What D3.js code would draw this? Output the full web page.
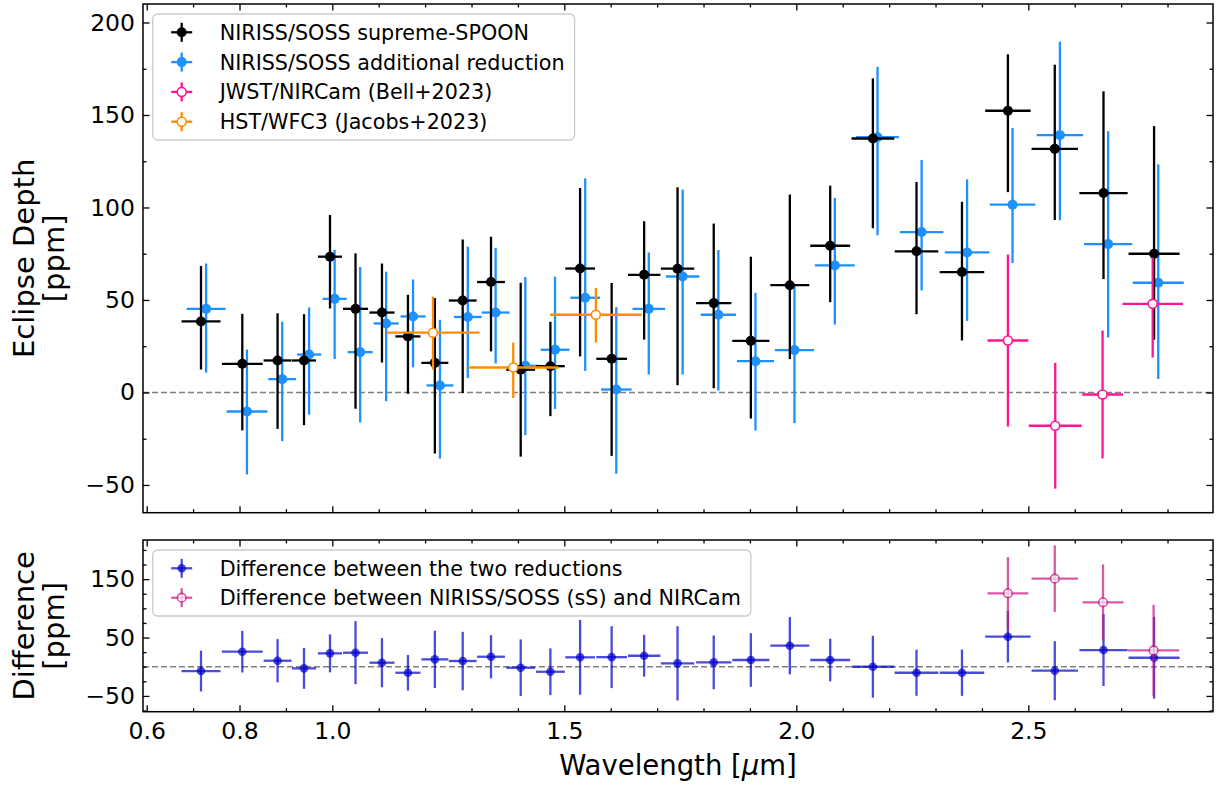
<!DOCTYPE html>
<html>
<head>
<meta charset="utf-8">
<script src="https://cdn.jsdelivr.net/npm/d3@7"></script>
<style>
  body { margin: 0; background: #fff; }
  svg { display: block; font-family: "DejaVu Sans", sans-serif; }
  .axis path { display: none; }
  .axis line { stroke: #000; stroke-width: 1.3; }
  .axis text { font-size: 23.5px; fill: #000; font-family: "DejaVu Sans", sans-serif; }
  .leg text { font-size: 20.7px; fill: #000; }
</style>
</head>
<body>
<svg width="1217" height="785"></svg>
<script>
// NIRISS/SOSS supreme-SPOON
var spoonWl    = [0.717, 0.806, 0.882, 0.939, 0.995, 1.050, 1.107, 1.163, 1.221, 1.281, 1.342, 1.406, 1.470, 1.534,
                  1.602, 1.672, 1.744, 1.822, 1.902, 1.986, 2.073, 2.165, 2.259, 2.357, 2.456, 2.557, 2.662, 2.771];
var spoonWlErr = [0.042, 0.044, 0.030, 0.026, 0.026, 0.027, 0.027, 0.027, 0.029, 0.030, 0.030, 0.031, 0.031, 0.032,
                  0.033, 0.035, 0.036, 0.038, 0.040, 0.042, 0.043, 0.046, 0.047, 0.048, 0.049, 0.050, 0.052, 0.055];
var spoonDepth = [38.4, 15.5, 17.3, 17.3, 73.4, 45.2, 43.2, 30.3, 16.0, 49.7, 59.7, 12.3, 14.2, 67.0,
                  18.2, 63.6, 66.9, 48.3, 27.9, 58.0, 79.3, 137.3, 76.3, 65.1, 152.3, 131.7, 107.8, 75.0];
var spoonErrLo = [26, 36, 37, 35, 28, 54, 27, 31, 49, 50, 37.5, 47, 27, 47.5,
                  52.5, 35, 63, 46, 42, 40, 30.5, 48.5, 34, 37, 44, 38.5, 46.5, 46.5];
var spoonErrHi = [30, 27, 25.5, 25, 22.5, 30, 26.5, 22.5, 35, 33, 24.5, 47, 24, 43.5,
                  41, 29, 44, 43, 45.5, 49, 32.5, 32.5, 37.5, 38, 30.5, 45.5, 55, 69];

// NIRISS/SOSS additional reduction
var addWl    = [0.728, 0.816, 0.892, 0.950, 1.005, 1.060, 1.116, 1.174, 1.232, 1.292, 1.352, 1.416, 1.480, 1.545,
                1.612, 1.682, 1.755, 1.832, 1.912, 1.996, 2.083, 2.175, 2.270, 2.368, 2.466, 2.568, 2.672, 2.780];
var addDepth = [45.2, -10.3, 7.2, 20.5, 50.6, 21.8, 37.3, 41.1, 3.8, 40.8, 43.2, 14.4, 23.1, 51.2,
                1.6, 45.2, 62.7, 42.0, 16.9, 22.9, 68.7, 138.0, 86.7, 75.7, 101.5, 139.1, 80.2, 59.3];
var addErrLo = [34.5, 34, 33.5, 32.5, 32.5, 38, 42, 27.5, 39.5, 33, 27.5, 37.5, 32, 39.5,
                45.5, 35.5, 53, 41, 37.5, 39.5, 32, 53, 31.5, 37, 31.5, 46, 50.5, 52];
var addErrHi = [24.5, 33.5, 31, 25.5, 26.5, 46, 28, 20, 35.5, 38, 35, 48, 39.5, 64.5,
                44.5, 30.5, 47, 35, 37, 34.5, 36.5, 38, 39, 39.5, 41.5, 50.5, 61, 64];

// JWST/NIRCam (Bell+2023)
var nircamWl    = [2.456, 2.558, 2.660, 2.768];
var nircamWlErr = [0.044, 0.057, 0.044, 0.065];
var nircamDepth = [28.1, -18.0, -1.1, 47.9];
var nircamErrLo = [46.5, 34, 34.5, 29];
var nircamErrHi = [46.5, 34, 34.5, 25];

// HST/WFC3 (Jacobs+2023)
var wfc3Wl    = [1.217, 1.390, 1.568];
var wfc3WlErr = [0.100, 0.097, 0.099];
var wfc3Depth = [32.3, 13.5, 42.0];
var wfc3ErrLo = [20, 16.5, 15];
var wfc3ErrHi = [19.5, 13.5, 14.5];

// differences (lower panel)
var diffRed    = [-7.4, 25.7, 10.3, -2.8, 22.9, 24.0, 6.9, -10.3, 12.6, 9.8, 17.1, -1.7, -8.6, 16.1,
                  16.4, 18.8, 5.8, 7.5, 11.5, 36.0, 11.5, 0.0, -10.3, -10.3, 51.4, -6.8, 28.6, 15.4];
var diffRedErr = [35, 35.6, 37, 35, 32.5, 54, 42, 30.5, 49, 50, 37, 48.5, 40, 64,
                  53, 35.7, 63.6, 46, 45.7, 49, 36.5, 53, 39.5, 39.6, 44, 50.5, 61.6, 70];
var diffNcWl    = [2.456, 2.557, 2.661, 2.770];
var diffNcWlErr = [0.044, 0.050, 0.044, 0.055];
var diffNc      = [125.7, 150.7, 110.2, 28.0];
var diffNcErr   = [62, 57, 65, 78];

// ticks
var xMajor = [0.6, 0.8, 1.0, 1.5, 2.0, 2.5];
var xMinor = [0.7, 0.9, 1.1, 1.2, 1.3, 1.4, 1.6, 1.7, 1.8, 1.9, 2.1, 2.2, 2.3, 2.4, 2.6, 2.7, 2.8];
var yTopMajor = [-50, 0, 50, 100, 150, 200];
var yTopMinor = [-25, 25, 75, 125, 175];
var yBotMajor = [-50, 50, 150];
var yBotMinor = [-75, -25, 0, 25, 75, 100, 125, 175, 200];

var svg = d3.select("svg");

var x = d3.scaleLinear().domain([0.592, 2.898]).range([143, 1213]);
var yTop = d3.scaleLinear().domain([-65, 210]).range([512.7, 4]);
var yBot = d3.scaleLinear().domain([-77, 217]).range([711.7, 540]);

function drawAxes(y, yMajor, yMinor, xLabels) {
    var r = y.range(), x0 = x.range()[0], x1 = x.range()[1];
    var g = svg.append("g");

    // zero line
    g.append("line")
        .attr("x1", x0).attr("x2", x1)
        .attr("y1", y(0)).attr("y2", y(0))
        .attr("stroke", "#808080").attr("stroke-width", 1.5)
        .attr("stroke-dasharray", "6,3");

    g.append("g").attr("class", "axis")
        .attr("transform", "translate(" + x0 + ",0)")
        .call(d3.axisLeft(y).tickValues(yMajor).tickSize(-6.5).tickPadding(8).tickFormat(d3.format("d")));
    g.append("g").attr("class", "axis")
        .attr("transform", "translate(" + x0 + ",0)")
        .call(d3.axisLeft(y).tickValues(yMinor).tickSize(-3.5).tickFormat(""));
    g.append("g").attr("class", "axis")
        .attr("transform", "translate(" + x1 + ",0)")
        .call(d3.axisRight(y).tickValues(yMajor).tickSize(-6.5).tickFormat(""));
    g.append("g").attr("class", "axis")
        .attr("transform", "translate(" + x1 + ",0)")
        .call(d3.axisRight(y).tickValues(yMinor).tickSize(-3.5).tickFormat(""));

    g.append("g").attr("class", "axis")
        .attr("transform", "translate(0," + r[0] + ")")
        .call(d3.axisBottom(x).tickValues(xMajor).tickSize(-6.5).tickPadding(11)
            .tickFormat(xLabels ? d3.format(".1f") : ""));
    g.append("g").attr("class", "axis")
        .attr("transform", "translate(0," + r[0] + ")")
        .call(d3.axisBottom(x).tickValues(xMinor).tickSize(-3.5).tickFormat(""));
    g.append("g").attr("class", "axis")
        .attr("transform", "translate(0," + r[1] + ")")
        .call(d3.axisTop(x).tickValues(xMajor).tickSize(-6.5).tickFormat(""));
    g.append("g").attr("class", "axis")
        .attr("transform", "translate(0," + r[1] + ")")
        .call(d3.axisTop(x).tickValues(xMinor).tickSize(-3.5).tickFormat(""));

    svg.append("rect")
        .attr("x", x0).attr("y", r[1])
        .attr("width", x1 - x0).attr("height", r[0] - r[1])
        .attr("fill", "none").attr("stroke", "#000").attr("stroke-width", 1.5);
}

// errorbar series: wl, wlErr, val, lower err, upper err, scale, style
function errorbars(wl, wlErr, val, errLo, errHi, y, st) {
    var g = svg.append("g");
    var pts = g.selectAll("g").data(val).enter().append("g");
    var op = st.opacity || 1;
    pts.append("line")
        .attr("x1", function(d, i) { return x(wl[i] - wlErr[i]); })
        .attr("x2", function(d, i) { return x(wl[i] + wlErr[i]); })
        .attr("y1", function(d) { return y(d); })
        .attr("y2", function(d) { return y(d); })
        .attr("stroke", st.color).attr("stroke-width", st.lw).attr("opacity", op);
    pts.append("line")
        .attr("x1", function(d, i) { return x(wl[i]); })
        .attr("x2", function(d, i) { return x(wl[i]); })
        .attr("y1", function(d, i) { return y(d - errLo[i]); })
        .attr("y2", function(d, i) { return y(d + errHi[i]); })
        .attr("stroke", st.color).attr("stroke-width", st.lw).attr("opacity", op);
    pts.append("circle")
        .attr("cx", function(d, i) { return x(wl[i]); })
        .attr("cy", function(d) { return y(d); })
        .attr("r", st.r)
        .attr("fill", st.fill)
        .attr("stroke", st.color).attr("stroke-width", st.open ? 1.6 : 0)
        .attr("opacity", op);
}

var stSpoon  = {color: "#000000", fill: "#000000", r: 5, lw: 2.3};
var stAdd    = {color: "#1e90ff", fill: "#1e90ff", r: 5, lw: 2.3};
var stNircam = {color: "#ff1493", fill: "#ffffff", r: 4.5, lw: 2.3, open: true};
var stWfc3   = {color: "#ff8c00", fill: "#ffffff", r: 4.5, lw: 2.3, open: true};
var stDiff   = {color: "#0000cd", fill: "#0000cd", r: 4.3, lw: 2.3, opacity: 0.7};
var stDiffNc = {color: "#c71585", fill: "#ffffff", r: 4.3, lw: 2.3, opacity: 0.7, open: true};

// top panel
drawAxes(yTop, yTopMajor, yTopMinor, false);
errorbars(addWl, spoonWlErr, addDepth, addErrLo, addErrHi, yTop, stAdd);
errorbars(spoonWl, spoonWlErr, spoonDepth, spoonErrLo, spoonErrHi, yTop, stSpoon);
errorbars(wfc3Wl, wfc3WlErr, wfc3Depth, wfc3ErrLo, wfc3ErrHi, yTop, stWfc3);
errorbars(nircamWl, nircamWlErr, nircamDepth, nircamErrLo, nircamErrHi, yTop, stNircam);

// bottom panel
drawAxes(yBot, yBotMajor, yBotMinor, true);
errorbars(spoonWl, spoonWlErr, diffRed, diffRedErr, diffRedErr, yBot, stDiff);
errorbars(diffNcWl, diffNcWlErr, diffNc, diffNcErr, diffNcErr, yBot, stDiffNc);

function legend(x0, y0, rowH, items) {
    var g = svg.append("g").attr("class", "leg");
    var box = g.append("rect")
        .attr("x", x0).attr("y", y0).attr("rx", 5).attr("ry", 5)
        .attr("fill", "#fff").attr("fill-opacity", 0.8)
        .attr("stroke", "#cccccc").attr("stroke-width", 1.3);
    var maxW = 0;
    items.forEach(function(it, i) {
        var cy = y0 + 18.3 + i * rowH, cx = x0 + 29;
        var op = it.st.opacity || 1;
        g.append("line").attr("x1", cx - 10.5).attr("x2", cx + 10.5).attr("y1", cy).attr("y2", cy)
            .attr("stroke", it.st.color).attr("stroke-width", it.st.lw).attr("opacity", op);
        g.append("line").attr("x1", cx).attr("x2", cx).attr("y1", cy - 9.5).attr("y2", cy + 9.5)
            .attr("stroke", it.st.color).attr("stroke-width", it.st.lw).attr("opacity", op);
        g.append("circle").attr("cx", cx).attr("cy", cy).attr("r", it.st.r)
            .attr("fill", it.st.fill).attr("stroke", it.st.color)
            .attr("stroke-width", it.st.open ? 1.6 : 0).attr("opacity", op);
        var t = g.append("text").attr("x", x0 + 67).attr("y", cy).attr("dy", "0.36em").text(it.label);
        maxW = Math.max(maxW, t.node().getComputedTextLength());
    });
    box.attr("width", 67 + maxW + 10).attr("height", 36.6 + (items.length - 1) * rowH);
}

legend(152.7, 14, 29.8, [
    {label: "NIRISS/SOSS supreme-SPOON", st: stSpoon},
    {label: "NIRISS/SOSS additional reduction", st: stAdd},
    {label: "JWST/NIRCam (Bell+2023)", st: stNircam},
    {label: "HST/WFC3 (Jacobs+2023)", st: stWfc3}
]);
legend(152.7, 550, 29.4, [
    {label: "Difference between the two reductions", st: stDiff},
    {label: "Difference between NIRISS/SOSS (sS) and NIRCam", st: stDiffNc}
]);

// axis labels
var xl = svg.append("text")
    .attr("x", (x.range()[0] + x.range()[1]) / 2).attr("y", 775)
    .attr("text-anchor", "middle").attr("font-size", 27.5);
xl.append("tspan").text("Wavelength [");
xl.append("tspan").attr("font-style", "italic").text("μ");
xl.append("tspan").text("m]");

function yLabel(cy, line1, line2) {
    var t = svg.append("text")
        .attr("transform", "translate(34," + cy + ") rotate(-90)")
        .attr("text-anchor", "middle").attr("font-size", 29);
    t.append("tspan").attr("x", 0).attr("y", 0).text(line1);
    t.append("tspan").attr("x", 0).attr("y", 29.5).text(line2);
}
yLabel((yTop.range()[0] + yTop.range()[1]) / 2, "Eclipse Depth", "[ppm]");
yLabel((yBot.range()[0] + yBot.range()[1]) / 2, "Difference", "[ppm]");
</script>
</body>
</html>
